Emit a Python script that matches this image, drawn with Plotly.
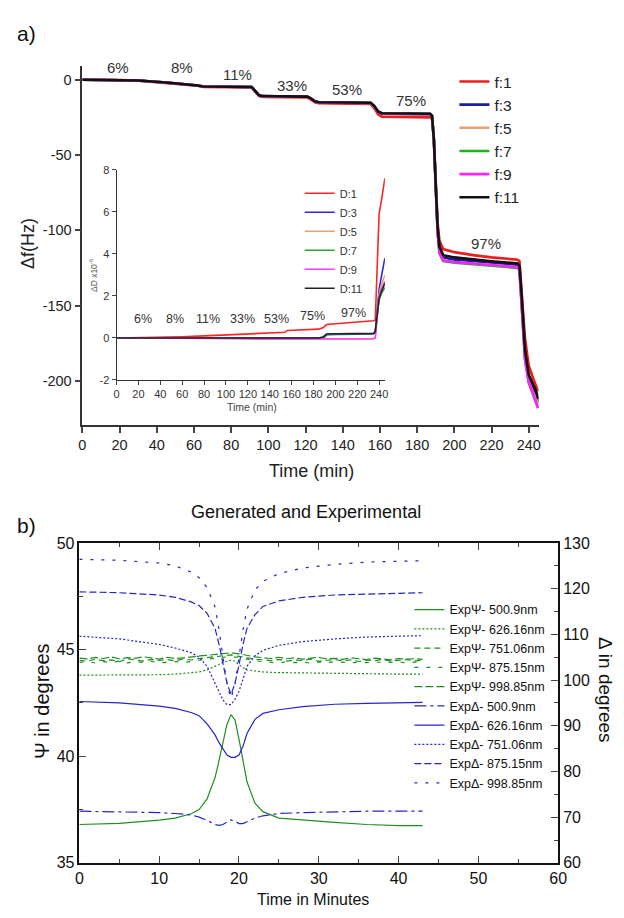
import plotly.graph_objects as go

# ---------------- panel a) main: frequency shift ----------------
t_f = [0, 15, 30, 45, 60, 62, 65, 80, 91, 93, 95, 97, 110, 121, 123, 125, 127, 140, 155, 157, 159, 161,
       175, 187, 188, 189, 190, 191, 192, 194, 200, 210, 220, 234, 235, 236, 237, 238, 240, 242, 244, 245]
f1 = [0, 0, -0.6, -2.0, -3.4, -4.0, -4.8, -4.9, -5.1, -8, -10.8, -11.4, -11.6, -11.8, -13.2, -15, -15.6, -15.8, -16, -19, -23, -24.5,
      -24.8, -25, -26, -40, -68, -95, -107, -112.5, -114.5, -116.5, -118, -119.5, -120.5, -135, -155, -172, -190, -197, -203, -207]
f3 = [0, 0, -0.5, -1.8, -3.2, -3.8, -4.5, -4.6, -4.8, -7.5, -10.4, -10.9, -11.1, -11.3, -12.6, -14.4, -15, -15.2, -15.4, -17.6, -21.2, -22.4,
      -22.6, -22.8, -24.2, -40, -71, -100, -113, -118, -119.5, -120.5, -121.5, -123, -124.5, -142, -164, -182, -198, -204, -209, -214]
f5 = [0, 0, -0.5, -1.8, -3.2, -3.8, -4.5, -4.6, -4.8, -7.5, -10.4, -10.9, -11.1, -11.3, -12.6, -14.4, -15, -15.2, -15.4, -17.6, -21.2, -22.4,
      -22.6, -22.8, -24.2, -40, -71, -101, -115, -120, -121, -122, -123, -124.5, -126, -144, -166, -185, -200, -207, -212, -216]
f7 = [0, 0, -0.5, -1.8, -3.2, -3.8, -4.5, -4.6, -4.8, -7.5, -10.4, -10.9, -11.1, -11.3, -12.6, -14.4, -15, -15.2, -15.4, -17.6, -21.2, -22.4,
      -22.6, -22.8, -24.2, -40, -71, -101, -115.5, -120.5, -121.5, -122.5, -123.5, -125, -126.5, -145, -167, -186, -201, -208, -214, -218]
f9 = [0, 0, -0.5, -1.8, -3.2, -3.8, -4.5, -4.6, -4.8, -7.5, -10.4, -10.9, -11.1, -11.3, -12.6, -14.4, -15, -15.2, -15.4, -17.6, -21.2, -22.4,
      -22.6, -22.8, -24.2, -40, -71, -101, -115, -120, -121, -122, -123, -124.5, -126.5, -145, -167, -186, -201, -208, -214, -218]
f11 = [0, 0, -0.5, -1.8, -3.2, -3.8, -4.5, -4.6, -4.8, -7.5, -10.3, -10.8, -11, -11.2, -12.5, -14.3, -14.9, -15.1, -15.3, -17.5, -21, -22.2,
       -22.4, -22.6, -24, -40, -70, -98, -111, -116.5, -118, -119.5, -120.5, -122, -123.5, -140, -162, -180, -196, -202, -207, -212]
f_names = ["f:1", "f:3", "f:5", "f:7", "f:9", "f:11"]
f_colors = ["#ee1c1c", "#1c1ca0", "#e2a272", "#22b022", "#ff22ff", "#111111"]
main_yticks = [0, -50, -100, -150, -200]
main_yticklabels = ["0", "-50", "-100", "-150", "-200"]

pct_labels = ["6%", "8%", "11%", "33%", "53%", "75%", "97%"]
pct_x_main = [19, 53.7, 83.2, 112.6, 142.1, 176.8, 216.8]
pct_y_main = [8.0, 8.0, 3.5, -3.7, -6.3, -14.1, -109]

# ---------------- panel a) inset: dissipation ----------------
t_d = [0, 20, 40, 60, 80, 100, 120, 140, 154, 156, 185, 189, 192, 200, 220, 234, 235, 236.5, 238, 239.5, 240, 242, 244, 245.3]
d1 = [0, 0.01, 0.03, 0.06, 0.1, 0.15, 0.2, 0.24, 0.27, 0.36, 0.42, 0.5, 0.64, 0.68, 0.75, 0.8, 0.82, 0.85, 3.0, 5.5, 5.9, 6.5, 7.1, 7.6]
d3 = [0, 0, 0, 0, 0, 0, -0.02, -0.03, -0.03, -0.03, -0.03, 0, 0.15, 0.17, 0.18, 0.2, 0.2, 0.3, 1.3, 2.0, 2.3, 2.9, 3.4, 3.8]
d5 = [0, 0, 0, 0, 0, -0.02, -0.04, -0.05, -0.05, -0.05, -0.05, -0.05, -0.04, -0.04, -0.04, -0.03, -0.03, 0, 1.0, 1.8, 2.1, 2.5, 2.8, 3.0]
d7 = [0, 0, 0, 0, 0, 0, 0, 0, 0, 0, 0, 0.05, 0.18, 0.19, 0.2, 0.21, 0.21, 0.3, 1.0, 1.6, 1.8, 2.1, 2.3, 2.4]
d9 = [0, 0, 0, 0, 0, -0.02, -0.04, -0.05, -0.05, -0.05, -0.05, -0.05, -0.05, -0.05, -0.05, -0.04, -0.04, 0, 1.0, 1.7, 2.0, 2.3, 2.6, 2.7]
d11 = [0, 0, 0, 0, 0, 0, 0, 0, 0, 0, 0, 0.05, 0.19, 0.2, 0.21, 0.22, 0.22, 0.3, 1.0, 1.7, 1.9, 2.2, 2.45, 2.6]
d_names = ["D:1", "D:3", "D:5", "D:7", "D:9", "D:11"]
d_colors = ["#ff2424", "#2a2ad2", "#e2a272", "#2ea52e", "#ff3cff", "#222222"]
inset_yticks = [-2, 0, 2, 4, 6, 8]
inset_yticklabels = ["-2", "0", "2", "4", "6", "8"]

pct_x_inset = [24.2, 53.7, 83.3, 115.5, 146, 179, 216.7]
pct_y_inset = [0.9, 0.9, 0.9, 0.9, 0.9, 1.03, 1.17]

# ---------------- panel b) ellipsometry ----------------
t_b = [0, 5, 10, 12, 14, 15, 16, 17, 17.5, 18, 18.5, 19, 19.5, 20, 20.5, 21, 22, 23, 25, 28, 32, 36, 40, 43]
psi_500 = [36.8, 36.85, 37.0, 37.1, 37.3, 37.5, 38.0, 39.0, 39.8, 40.7, 41.5, 41.95, 41.7, 40.8, 39.7, 38.8, 37.8, 37.4, 37.1, 37.0, 36.9, 36.8, 36.75, 36.75]
psi_626 = [43.8, 43.8, 43.82, 43.85, 43.9, 43.95, 44.05, 44.2, 44.3, 44.4, 44.45, 44.5, 44.45, 44.3, 44.15, 44.05, 44.0, 43.95, 43.92, 43.9, 43.88, 43.85, 43.85, 43.85]
t_n = [0, 1, 2, 3, 4, 5, 6, 7, 8, 9, 10, 11, 12, 13, 14, 15, 16, 17, 18, 19, 20, 21,
       22, 23, 24, 25, 26, 27, 28, 29, 30, 31, 32, 33, 34, 35, 36, 37, 38, 39, 40, 41, 42, 43]
psi_751 = [44.50, 44.45, 44.55, 44.48, 44.52, 44.43, 44.57, 44.50, 44.46, 44.54, 44.49, 44.53, 44.47, 44.56, 44.51, 44.58, 44.62, 44.65, 44.70, 44.75, 44.68, 44.60,
           44.55, 44.52, 44.48, 44.54, 44.46, 44.51, 44.49, 44.55, 44.45, 44.50, 44.53, 44.47, 44.52, 44.44, 44.51, 44.48, 44.54, 44.46, 44.50, 44.53, 44.47, 44.50]
psi_875 = [44.40, 44.44, 44.37, 44.43, 44.39, 44.46, 44.38, 44.42, 44.40, 44.45, 44.37, 44.41, 44.44, 44.39, 44.46, 44.50, 44.55, 44.60, 44.65, 44.68, 44.62, 44.54,
           44.48, 44.43, 44.40, 44.37, 44.43, 44.39, 44.41, 44.36, 44.42, 44.38, 44.44, 44.40, 44.37, 44.41, 44.39, 44.43, 44.38, 44.40, 44.42, 44.37, 44.41, 44.40]
psi_998 = [44.60, 44.56, 44.63, 44.58, 44.65, 44.57, 44.62, 44.59, 44.66, 44.60, 44.55, 44.64, 44.58, 44.61, 44.67, 44.70, 44.73, 44.78, 44.82, 44.85, 44.80, 44.72,
           44.66, 44.62, 44.58, 44.64, 44.57, 44.61, 44.55, 44.60, 44.63, 44.56, 44.59, 44.54, 44.61, 44.57, 44.53, 44.60, 44.56, 44.52, 44.58, 44.55, 44.57, 44.54]
del_500 = [71.3, 71.2, 71.0, 70.8, 70.5, 70.0, 69.3, 68.4, 68.2, 68.4, 69.0, 69.4, 69.1, 68.6, 68.6, 69.0, 69.8, 70.3, 70.8, 71.0, 71.2, 71.3, 71.3, 71.3]
del_626 = [95.3, 95.0, 94.3, 93.8, 92.9, 92.2, 90.4, 88, 86.3, 84.8, 83.6, 83.1, 83.1, 83.6, 85.5, 88.3, 91.4, 92.7, 93.5, 94.2, 94.7, 94.9, 95.1, 95.1]
del_751 = [109.6, 109.0, 107.8, 107.0, 106.0, 105.0, 103.0, 99.2, 97.2, 95.6, 94.6, 94.6, 95.8, 97.5, 100.2, 103.0, 105.3, 106.5, 107.6, 108.4, 109.0, 109.4, 109.6, 109.7]
del_875 = [119.3, 119.1, 118.6, 118.1, 117.1, 116.3, 114.6, 111.3, 107.8, 103.3, 99.3, 96.8, 99.3, 103.3, 107.8, 111.3, 114.3, 116.1, 117.3, 118.1, 118.6, 118.8, 119.0, 119.1]
del_998 = [126.4, 126.2, 125.6, 125.0, 123.6, 122.4, 120.2, 116, 111, 105, 99, 96, 99, 105, 111, 115.5, 119.7, 121.6, 123.3, 124.5, 125.3, 125.8, 126.0, 126.1]

b_names = ["ExpΨ- 500.9nm", "ExpΨ- 626.16nm", "ExpΨ- 751.06nm", "ExpΨ- 875.15nm", "ExpΨ- 998.85nm",
           "ExpΔ- 500.9nm", "ExpΔ- 626.16nm", "ExpΔ- 751.06nm", "ExpΔ- 875.15nm", "ExpΔ- 998.85nm"]

GREEN = "#1f8f1f"
BLUE = "#2626c8"
FONT = "Liberation Sans, Arial, sans-serif"

fig = go.Figure()

# main traces
for name, col, ys in zip(f_names, f_colors, [f1, f3, f5, f7, f9, f11]):
    fig.add_trace(go.Scatter(x=t_f, y=ys, name=name, mode="lines", line=dict(color=col, width=2.6),
                             xaxis="x", yaxis="y", legend="legend"))

# inset traces
for name, col, ys in zip(d_names, d_colors, [d1, d3, d5, d7, d9, d11]):
    fig.add_trace(go.Scatter(x=t_d, y=ys, name=name, mode="lines", line=dict(color=col, width=1.6),
                             xaxis="x2", yaxis="y2", legend="legend2"))

# bottom traces
psi_series = [(t_b, psi_500, "solid"), (t_b, psi_626, "2px,2px"), (t_n, psi_751, "6px,4px"),
              (t_n, psi_875, "4px,8px"), (t_n, psi_998, "8px,3px")]
del_series = [(del_500, "12px,4px,3px,4px"), (del_626, "solid"), (del_751, "2px,2px"),
              (del_875, "7px,3px"), (del_998, "3px,8px")]
for (xs, ys, dash), name in zip(psi_series, b_names[:5]):
    fig.add_trace(go.Scatter(x=xs, y=ys, name=name, mode="lines", line=dict(color=GREEN, width=1.2, dash=dash),
                             xaxis="x3", yaxis="y3", legend="legend3"))
for (ys, dash), name in zip(del_series, b_names[5:]):
    fig.add_trace(go.Scatter(x=t_b, y=ys, name=name, mode="lines", line=dict(color=BLUE, width=1.2, dash=dash),
                             xaxis="x3", yaxis="y4", legend="legend3"))

ann = []
for lab, x, y in zip(pct_labels, pct_x_main, pct_y_main):
    ann.append(dict(x=x, y=y, xref="x", yref="y", text=lab, showarrow=False,
                    xanchor="center", yanchor="middle",
                    font=dict(size=15, color="#333", family=FONT)))
for lab, x, y in zip(pct_labels, pct_x_inset, pct_y_inset):
    ann.append(dict(x=x, y=y, xref="x2", yref="y2", text=lab, showarrow=False,
                    xanchor="center", yanchor="middle",
                    font=dict(size=12.5, color="#333", family=FONT)))

W, H = 624, 918
def px(x):
    return x / W
def py(y):
    return 1 - y / H

def label(x, y, text, size, color="#111", angle=0):
    return dict(x=px(x), y=py(y), xref="paper", yref="paper", text=text, showarrow=False,
                xanchor="center", yanchor="middle", textangle=angle,
                font=dict(size=size, color=color, family=FONT))

ann += [
    label(23, 26, "a)", 21),
    label(24, 240, "Δf(Hz)", 18, "#222", -90),
    label(314, 472, "Time (min)", 18, "#222"),
    label(253, 407, "Time (min)", 10.5, "#444"),
    label(92, 272, "ΔD x10<sup>-6</sup>", 8.5, "#555", -90),
    label(23, 527, "b)", 21),
    label(308, 514, "Generated and Experimental", 18),
    label(39, 706, "Ψ in degrees", 20, "#111", -90),
    label(615, 695, "Δ in degrees", 19, "#111", 90),
    label(316, 908, "Time in Minutes", 16),
]

axis_common = dict(showgrid=False, zeroline=False, showline=True)

fig.update_layout(
    width=W, height=H, margin=dict(l=0, r=0, t=0, b=0),
    paper_bgcolor="white", plot_bgcolor="white",
    font=dict(family=FONT, color="#222"),
    annotations=ann,
    xaxis=dict(domain=[px(80), px(546)], range=[0, 245.3], anchor="y", tick0=0, dtick=20,
               ticks="outside", ticklen=6, tickwidth=1.5, linecolor="#333", linewidth=1.5,
               tickfont=dict(size=14.5, color="#222"), **axis_common),
    yaxis=dict(domain=[py(425), py(59)], range=[-229.4, 9.2], anchor="x", tickvals=main_yticks,
               ticktext=main_yticklabels,
               ticks="outside", ticklen=6, tickwidth=1.5, linecolor="#333", linewidth=1.5,
               tickfont=dict(size=14.5, color="#222"), **axis_common),
    xaxis2=dict(domain=[px(115), px(389)], range=[0, 245.3], anchor="y2", tick0=0, dtick=20,
                ticks="outside", ticklen=4, tickwidth=1.2, linecolor="#333", linewidth=1.2,
                tickfont=dict(size=11, color="#333"), **axis_common),
    yaxis2=dict(domain=[py(379), py(165)], range=[-2, 8], anchor="x2", tickvals=inset_yticks,
                ticktext=inset_yticklabels,
                ticks="outside", ticklen=4, tickwidth=1.2, linecolor="#333", linewidth=1.2,
                tickfont=dict(size=11, color="#333"), **axis_common),
    xaxis3=dict(domain=[px(77), px(566)], range=[0, 60], anchor="y3", tick0=0, dtick=10,
                ticks="inside", ticklen=7, tickwidth=1.2, linecolor="#111", linewidth=1.5, mirror="ticks",
                minor=dict(dtick=5, ticklen=4, ticks="inside", tickwidth=1.2),
                tickfont=dict(size=16, color="#111"), **axis_common),
    yaxis3=dict(domain=[py(871), py(545)], range=[35, 50], anchor="x3", tickvals=[35, 40, 45, 50],
                ticks="inside", ticklen=7, tickwidth=1.2, linecolor="#111", linewidth=1.5,
                minor=dict(dtick=2.5, ticklen=4, ticks="inside", tickwidth=1.2),
                tickfont=dict(size=16, color="#111"), **axis_common),
    yaxis4=dict(overlaying="y3", side="right", range=[60, 130], anchor="x3", tick0=60, dtick=10,
                ticks="inside", ticklen=7, tickwidth=1.2, linecolor="#111", linewidth=1.5,
                minor=dict(dtick=5, ticklen=4, ticks="inside", tickwidth=1.2),
                tickfont=dict(size=16, color="#111"), **axis_common),
    legend=dict(x=px(460), y=py(58), xanchor="left", yanchor="top", bgcolor="rgba(0,0,0,0)",
                font=dict(size=15.5, color="#222", family=FONT), tracegroupgap=0),
    legend2=dict(x=px(302), y=py(174), xanchor="left", yanchor="top", bgcolor="rgba(0,0,0,0)",
                 font=dict(size=11, color="#333", family=FONT), tracegroupgap=0),
    legend3=dict(x=px(414), y=py(598), xanchor="left", yanchor="top", bgcolor="rgba(0,0,0,0)",
                 font=dict(size=12.5, color="#111", family=FONT), tracegroupgap=0),
)

fig.write_html("out.html", config={"displayModeBar": False},
               post_script="document.body.style.margin='0px';")
